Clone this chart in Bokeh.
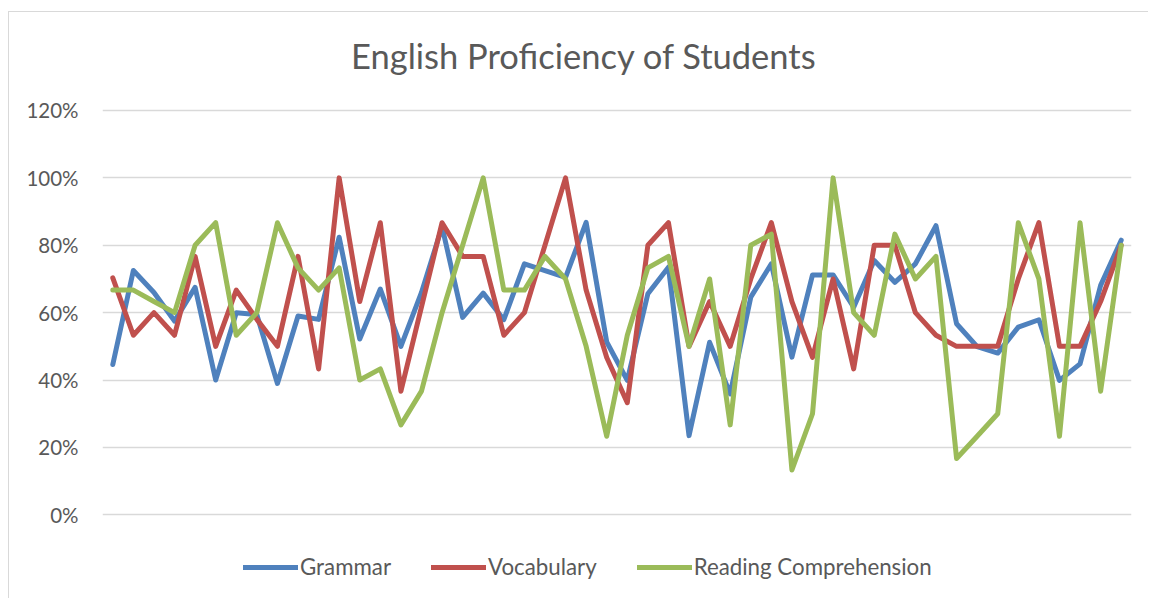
from bokeh.plotting import figure
from bokeh.models import Range1d, FixedTicker, NumeralTickFormatter, Legend, LegendItem, Label
from bokeh.embed import file_html
from bokeh.resources import INLINE

students = list(range(1, 51))

grammar = [44.6, 72.5, 66, 57.5, 67.5, 40, 60, 59.4, 39, 59, 58, 82.4, 52.2, 67, 50,
           66, 85.5, 58.6, 65.8, 57.9, 74.5, 72.5, 70.5, 86.8, 51.3, 39.9, 65.6, 73.5,
           23.5, 51.2, 35.9, 64.6, 74.5, 46.8, 71.2, 71.2, 61.6, 75.5, 69, 74.5, 85.8,
           56.7, 49.9, 48, 55.7, 57.9, 39.9, 44.8, 68.1, 81.5]
vocabulary = [70.3, 53.3, 60, 53.3, 76.7, 50, 66.7, 58, 50, 76.7, 43.3, 100, 63.3, 86.7,
              36.7, 61.7, 86.7, 76.7, 76.7, 53.3, 60, 80, 100, 66.7, 46.7, 33.3, 80, 86.7,
              50, 63.3, 50, 70, 86.7, 63.3, 46.7, 70, 43.3, 80, 80, 60, 53.3, 50, 50, 50,
              70, 86.7, 50, 50, 63.3, 80]
reading = [66.7, 66.7, 63.3, 60, 80, 86.7, 53.3, 60, 86.7, 73.3, 66.7, 73.3, 40, 43.3,
           26.7, 36.7, 60, 80, 100, 66.7, 66.7, 76.7, 70, 50, 23.3, 53.3, 73.3, 76.7, 50,
           70, 26.7, 80, 83.3, 13.3, 30, 100, 60, 53.3, 83.3, 70, 76.7, 16.7, 23.3, 30,
           86.7, 70, 23.3, 86.7, 36.7, 80]

series_names = ["Grammar", "Vocabulary", "Reading Comprehension"]
y_ticks = [0, 0.2, 0.4, 0.6, 0.8, 1.0, 1.2]
title_text = "English Proficiency of Students"

FONT = "Lato"
TEXT = "#595959"

# the frame spans the full height: title above 120% and legend below 0% live inside it
p = figure(width=1140, height=587, output_backend="svg", toolbar_location=None,
           x_range=Range1d(0.5, 50.5), y_range=Range1d(-0.2246, 1.4908),
           min_border_left=93, min_border_right=18, min_border_top=0,
           min_border_bottom=9)
p.outline_line_color = None
p.styles = {"margin-left": "8px", "margin-top": "11px",
            "border-left": "1px solid #d9d9d9", "border-top": "1px solid #d9d9d9"}

p.add_layout(Label(x=23.9, y=1.363, text=title_text, text_align="center",
                   text_baseline="middle", text_font=FONT, text_font_size="34.5px",
                   text_color=TEXT))

p.xaxis.visible = False
p.xgrid.visible = False
p.ygrid.grid_line_color = "#d9d9d9"
p.ygrid.grid_line_width = 1.5

p.yaxis.ticker = FixedTicker(ticks=y_ticks)
p.yaxis.formatter = NumeralTickFormatter(format="0%")
p.yaxis.axis_line_color = None
p.yaxis.major_tick_line_color = None
p.yaxis.minor_tick_line_color = None
p.yaxis.major_label_text_font = FONT
p.yaxis.major_label_text_font_size = "20.5px"
p.yaxis.major_label_text_color = TEXT
p.yaxis.major_label_standoff = 18

colors = ["#4f81bd", "#c0504d", "#9bbb59"]
items = []
for name, vals, c in zip(series_names, [grammar, vocabulary, reading], colors):
    r = p.line(students, [v / 100 for v in vals], line_color=c, line_width=5,
               line_join="round", line_cap="round")
    items.append(LegendItem(label=name, renderers=[r]))

legend = Legend(items=items, orientation="horizontal", location=(141, 10),
                glyph_width=55, glyph_height=20, label_standoff=2, spacing=40,
                padding=0, margin=0, border_line_color=None,
                label_text_font=FONT, label_text_font_size="22.3px",
                label_text_color=TEXT, background_fill_alpha=0)
p.add_layout(legend, "center")

open("out.html", "w").write(file_html(p, INLINE))
